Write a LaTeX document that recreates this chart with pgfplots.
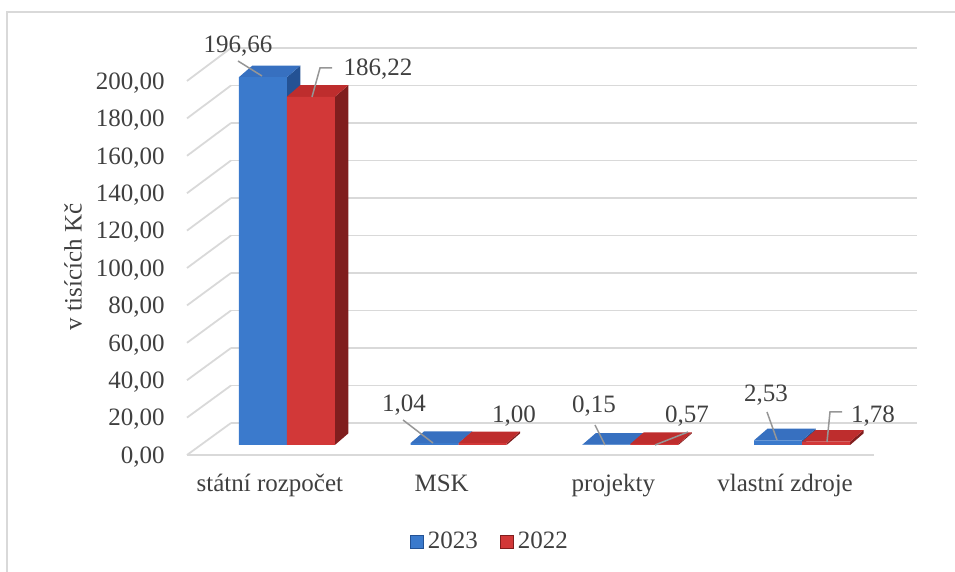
\documentclass[border=0pt]{standalone}
\usepackage{pgfplots}
\pgfplotsset{compat=1.18}
\usepackage{fontspec}
\setmainfont{Liberation Serif}
\definecolor{txt}{RGB}{64,64,64}
\definecolor{gridc}{RGB}{217,217,217}
\definecolor{bF}{RGB}{59,122,204}
\definecolor{bT}{RGB}{55,112,192}
\definecolor{bS}{RGB}{36,82,148}
\definecolor{rF}{RGB}{210,56,56}
\definecolor{rT}{RGB}{190,45,45}
\definecolor{rS}{RGB}{128,30,30}
\definecolor{lead}{RGB}{150,150,150}
\newcommand\lab{\fontsize{12.5}{15}\selectfont}
\begin{document}
\begin{tikzpicture}
\path[use as bounding box] (0,0) rectangle (477.5pt,-286pt);
\begin{scope}[x=0.5pt,y=-0.5pt]
 \draw[gridc, line width=1pt] (7,572) -- (7,12) -- (955,12);
 \draw[gridc, line width=0.9pt] (187,455) -- (874,455);
 \foreach \v in {0,20,...,200} \draw[gridc,line width=0.9pt] (187,{455-1.87*\v}) -- (231,{423-1.875*\v});
\end{scope}
% back wall grid
\begin{axis}[at={(115.5pt,-211.5pt)}, anchor=south west, scale only axis,
  width=343pt, height=187.5pt, xmin=0, xmax=4, ymin=0, ymax=200,
  ytick={0,20,...,200}, xtick=\empty, yticklabels={}, ymajorgrids,
  grid style={gridc, line width=0.9pt}, axis line style={draw=none}, major tick length=0pt]
 \addplot[draw=none] coordinates {(0,0)};
\end{axis}
% front labels
\begin{axis}[at={(93.5pt,-227.5pt)}, anchor=south west, scale only axis,
  width=343.5pt, height=187pt, xmin=0, xmax=4, ymin=0, ymax=200,
  ytick={0,20,...,200},
  yticklabels={{0,00},{20,00},{40,00},{60,00},{80,00},{100,00},{120,00},{140,00},{160,00},{180,00},{200,00}},
  xtick={0.5,1.5,2.5,3.5},
  xticklabels={státní rozpočet, MSK, projekty, vlastní zdroje},
  axis line style={draw=none}, major tick length=0pt,
  yticklabel style={font=\lab, text=txt, inner sep=0pt, anchor=base east, xshift=-11pt, yshift=-4.2pt},
  xticklabel style={font=\lab, text=txt, inner sep=0pt, anchor=base, yshift=-18.5pt, xshift=-1.5pt}]
 \addplot[draw=none] coordinates {(0,0)};
\end{axis}
% bars
\begin{axis}[at={(100.5pt,-222.5pt)}, anchor=south west, scale only axis,
  width=343.5pt, height=187pt, xmin=0, xmax=4, ymin=0, ymax=200, clip=false,
  axis line style={draw=none}, major tick length=0pt, xtick=\empty, ytick=\empty,
  legend columns=2,
  legend style={at={(0.4221,-0.2594)}, anchor=center, draw=none, fill=none,
    font=\lab, text=txt, /tikz/every even column/.append style={column sep=9pt}}]
 % blue tops and sides
 \addplot[fill=bS, draw=none, forget plot] coordinates {(0.5,0) (0.578,6.2) (0.578,202.86) (0.5,196.66)} -- cycle;
 \addplot[fill=bT, draw=none, forget plot] coordinates {(0.2205,196.66) (0.5,196.66) (0.578,202.86) (0.2985,202.86)} -- cycle;
 \addplot[fill=bS, draw=none, forget plot] coordinates {(1.5,0) (1.578,6.2) (1.578,7.24) (1.5,1.04)} -- cycle;
 \addplot[fill=bT, draw=none, forget plot] coordinates {(1.2205,1.04) (1.5,1.04) (1.578,7.24) (1.2985,7.24)} -- cycle;
 \addplot[fill=bS, draw=none, forget plot] coordinates {(2.5,0) (2.578,6.2) (2.578,6.35) (2.5,0.15)} -- cycle;
 \addplot[fill=bT, draw=none, forget plot] coordinates {(2.2205,0.15) (2.5,0.15) (2.578,6.35) (2.2985,6.35)} -- cycle;
 \addplot[fill=bS, draw=none, forget plot] coordinates {(3.5,0) (3.578,6.2) (3.578,8.73) (3.5,2.53)} -- cycle;
 \addplot[fill=bT, draw=none, forget plot] coordinates {(3.2205,2.53) (3.5,2.53) (3.578,8.73) (3.2985,8.73)} -- cycle;
 \addplot[ybar, bar width=0.2795, bar shift=-0.13975, fill=bF, draw=none,
   legend image code/.code={\fill[bF, draw=bS] (0pt,-3.25pt) rectangle (6.5pt,3.25pt);}]
   coordinates {(0.5,196.66) (1.5,1.04) (2.5,0.15) (3.5,2.53)};
 \addlegendentry{2023}
 % red tops and sides
 \addplot[fill=rS, draw=none, forget plot] coordinates {(0.7795,0) (0.8575,6.2) (0.8575,192.42) (0.7795,186.22)} -- cycle;
 \addplot[fill=rT, draw=none, forget plot] coordinates {(0.5,186.22) (0.7795,186.22) (0.8575,192.42) (0.578,192.42)} -- cycle;
 \addplot[fill=rS, draw=none, forget plot] coordinates {(1.7795,0) (1.8575,6.2) (1.8575,7.2) (1.7795,1.0)} -- cycle;
 \addplot[fill=rT, draw=none, forget plot] coordinates {(1.5,1.00) (1.7795,1.00) (1.8575,7.20) (1.578,7.20)} -- cycle;
 \addplot[fill=rS, draw=none, forget plot] coordinates {(2.7795,0) (2.8575,6.2) (2.8575,6.77) (2.7795,0.57)} -- cycle;
 \addplot[fill=rT, draw=none, forget plot] coordinates {(2.5,0.57) (2.7795,0.57) (2.8575,6.77) (2.578,6.77)} -- cycle;
 \addplot[fill=rS, draw=none, forget plot] coordinates {(3.7795,0) (3.8575,6.2) (3.8575,7.98) (3.7795,1.78)} -- cycle;
 \addplot[fill=rT, draw=none, forget plot] coordinates {(3.5,1.78) (3.7795,1.78) (3.8575,7.98) (3.578,7.98)} -- cycle;
 \addplot[ybar, bar width=0.2795, bar shift=0.13975, fill=rF, draw=none,
   legend image code/.code={\fill[rF, draw=rS] (0pt,-3.25pt) rectangle (6.5pt,3.25pt);}]
   coordinates {(0.5,186.22) (1.5,1.00) (2.5,0.57) (3.5,1.78)};
 \addlegendentry{2022}
\end{axis}
\begin{scope}[x=0.5pt,y=-0.5pt]
 \draw[lead, line width=0.75pt] (238,61) -- (262,76);
 \draw[lead, line width=0.75pt] (332,68) -- (320,68) -- (312,97);
 \draw[lead, line width=0.75pt] (403,420) -- (433,443);
 \draw[lead, line width=0.75pt] (595,425) -- (605,445);
 \draw[lead, line width=0.75pt] (688,432) -- (655,445);
 \draw[lead, line width=0.75pt] (767,412) -- (777,440);
 \draw[lead, line width=0.75pt] (842,412) -- (830,412) -- (827,442);
 \begin{scope}[every node/.style={font=\lab, text=txt, inner sep=0pt, anchor=base}]
  \node at (238,53) {196,66};
  \node at (378,76) {186,22};
  \node at (404,412) {1,04};
  \node at (514,423) {1,00};
  \node at (594,413) {0,15};
  \node at (687,423) {0,57};
  \node at (766,402) {2,53};
  \node at (873,423) {1,78};
  \node[anchor=center, rotate=90] at (73,267) {v tisících Kč};
 \end{scope}
\end{scope}
\end{tikzpicture}
\end{document}
